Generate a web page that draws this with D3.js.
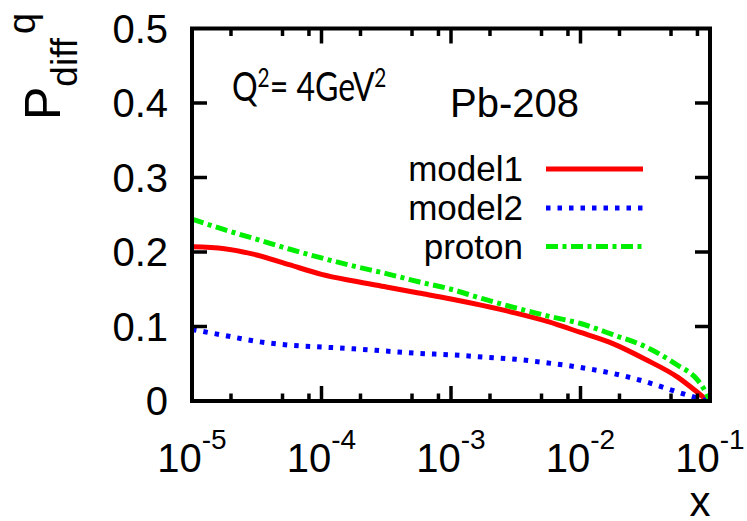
<!DOCTYPE html>
<html><head><meta charset="utf-8">
<script src="https://cdn.jsdelivr.net/npm/d3@7"></script>
<style>body{margin:0;background:#fff}svg{display:block}text{font-family:"Liberation Sans",Arial,Helvetica,sans-serif}</style>
</head><body>
<script>
// ---- data ----
const logX = [-5, -4.75, -4.5, -4.25, -4, -3.75, -3.5, -3.25, -3, -2.75, -2.5, -2.25, -2, -1.75, -1.5, -1.25, -1.1, -1.05, -1];
const model1 = [0.207, 0.2045, 0.196, 0.183, 0.170, 0.161, 0.153, 0.145, 0.137, 0.128, 0.118, 0.1065, 0.092, 0.077, 0.056, 0.032, 0.012, 0.005, 0];
const model2 = [0.096, 0.088, 0.080, 0.075, 0.0725, 0.070, 0.067, 0.064, 0.062, 0.059, 0.056, 0.051, 0.045, 0.037, 0.026, 0.012, 0.004, 0.0015, 0];
const proton = [0.244, 0.230, 0.217, 0.204, 0.192, 0.181, 0.171, 0.160, 0.150, 0.137, 0.125, 0.114, 0.104, 0.089, 0.073, 0.048, 0.029, 0.017, 0];
const yTicks = [0, 0.1, 0.2, 0.3, 0.4, 0.5];
const yTickLabels = ["0", "0.1", "0.2", "0.3", "0.4", "0.5"];
const xMajorExp = [-5, -4, -3, -2, -1];
const xMinorMult = [2, 5, 8];
const seriesNames = ["model1", "model2", "proton"];
const seriesColors = ["#ff0000", "#0000ff", "#00ee00"];

const W = 747, H = 521;
const pLeft = 192, pRight = 710, pTop = 28.5, pBottom = 401;
const svg = d3.select("body").append("svg").attr("width", W).attr("height", H);

const x = d3.scaleLog().domain([1e-5, 1e-1]).range([pLeft, pRight]);
const y = d3.scaleLinear().domain([0, 0.5]).range([pBottom, pTop]);

const xs = logX.map(l => Math.pow(10, l));
const series = [model1, model2, proton].map((vals, i) => ({
  name: seriesNames[i], color: seriesColors[i],
  pts: vals.map((v, j) => [xs[j], v])
}));
const dashes = [null, "4.5,7", "12,4.5,4,4.5"];

const line = d3.line().x(d => x(d[0])).y(d => y(d[1])).curve(d3.curveMonotoneX);
const g = svg.append("g");
g.append("clipPath").attr("id", "clip").append("rect")
  .attr("x", pLeft).attr("y", pTop).attr("width", pRight - pLeft).attr("height", pBottom - pTop);

series.forEach((s, i) => {
  g.append("path").attr("d", line(s.pts)).attr("fill", "none")
    .attr("stroke", s.color).attr("stroke-width", 5)
    .attr("stroke-dasharray", dashes[i])
    .attr("clip-path", "url(#clip)");
});

// ticks
const tk = g.append("g").attr("stroke", "#000").attr("stroke-width", 3.5);
yTicks.forEach(t => {
  if (t === 0 || t === 0.5) return;
  tk.append("line").attr("x1", pLeft).attr("x2", pLeft + 15).attr("y1", y(t)).attr("y2", y(t));
  tk.append("line").attr("x1", pRight).attr("x2", pRight - 15).attr("y1", y(t)).attr("y2", y(t));
});
xMajorExp.forEach((e, k) => {
  const v = Math.pow(10, e);
  if (k > 0 && k < xMajorExp.length - 1) {
    tk.append("line").attr("x1", x(v)).attr("x2", x(v)).attr("y1", pBottom).attr("y2", pBottom - 15);
    tk.append("line").attr("x1", x(v)).attr("x2", x(v)).attr("y1", pTop).attr("y2", pTop + 15);
  }
  if (k < xMajorExp.length - 1) {
    xMinorMult.forEach(m => {
      const mv = m * v;
      tk.append("line").attr("x1", x(mv)).attr("x2", x(mv)).attr("y1", pBottom).attr("y2", pBottom - 7.5);
      tk.append("line").attr("x1", x(mv)).attr("x2", x(mv)).attr("y1", pTop).attr("y2", pTop + 7.5);
    });
  }
});

// frame
g.append("rect").attr("x", pLeft).attr("y", pTop).attr("width", pRight - pLeft).attr("height", pBottom - pTop)
  .attr("fill", "none").attr("stroke", "#000").attr("stroke-width", 4);

// y tick labels
yTicks.forEach((t, i) => {
  svg.append("text").attr("x", 168).attr("y", y(t)).attr("dy", "0.36em")
    .attr("text-anchor", "end").attr("font-size", 40).text(yTickLabels[i]);
});
// x tick labels
xMajorExp.forEach(e => {
  const t = svg.append("text").attr("x", x(Math.pow(10, e))).attr("y", 472)
    .attr("text-anchor", "middle").attr("font-size", 40);
  t.append("tspan").text("10");
  t.append("tspan").attr("dy", -23).attr("font-size", 28).text(String(e));
});

// axis labels
svg.append("text").attr("x", 700).attr("y", 516).attr("text-anchor", "middle").attr("font-size", 42).text("x");
const yl = svg.append("text").attr("transform", "translate(60,120) rotate(-90)").attr("font-size", 50);
yl.append("tspan").text("P");
yl.append("tspan").attr("dy", 17).attr("font-size", 37).text("diff");
yl.append("tspan").attr("dy", -42).attr("dx", 4).attr("font-size", 38).text("q");

// annotations
const q = svg.append("text").attr("transform", "translate(232,101) scale(0.8,1)").attr("font-size", 40)
  .style("font-family", "Lato, 'Open Sans', sans-serif");
q.append("tspan").text("Q");
q.append("tspan").attr("dy", -14).attr("font-size", 26).text("2");
q.append("tspan").attr("dy", 14).text("= 4GeV");
q.append("tspan").attr("dy", -14).attr("font-size", 26).text("2");
svg.append("text").attr("x", 450).attr("y", 117).attr("font-size", 40).text("Pb-208");

// legend
const legY = [169, 208, 246.5];
series.forEach((s, i) => {
  svg.append("text").attr("x", 523).attr("y", legY[i] + 12).attr("text-anchor", "end")
    .attr("font-size", 35).text(s.name);
  svg.append("line").attr("x1", 546).attr("x2", 643).attr("y1", legY[i]).attr("y2", legY[i])
    .attr("stroke", s.color).attr("stroke-width", 5).attr("stroke-dasharray", dashes[i]);
});
</script>
</body></html>
